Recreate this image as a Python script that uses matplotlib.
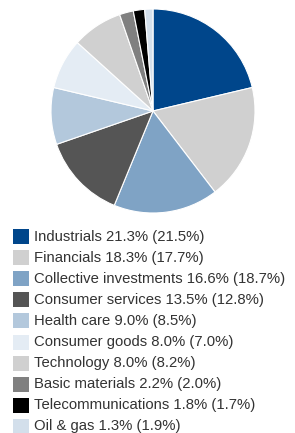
import matplotlib
matplotlib.use("Agg")
import matplotlib.pyplot as plt
from matplotlib.patches import Rectangle

# Sector weights (current %, previous % in brackets)
sectors = ["Industrials", "Financials", "Collective investments", "Consumer services",
           "Health care", "Consumer goods", "Technology", "Basic materials",
           "Telecommunications", "Oil & gas"]
current = [21.3, 18.3, 16.6, 13.5, 9.0, 8.0, 8.0, 2.2, 1.8, 1.3]
previous = [21.5, 17.7, 18.7, 12.8, 8.5, 7.0, 8.2, 2.0, 1.7, 1.9]
colors = ["#00468b", "#d0d0d0", "#7fa3c5", "#555555", "#b3c8dc",
          "#e4ecf4", "#d0d0d0", "#808080", "#000000", "#d3dfeb"]

plt.rcParams["font.family"] = ["Liberation Sans", "DejaVu Sans"]

fig = plt.figure(figsize=(2.95, 4.33), dpi=100)

# Pie
ax = fig.add_axes([51 / 295, 1 - 213 / 433, 204 / 295, 204 / 433])
ax.pie(current, colors=colors, startangle=90, counterclock=False,
       wedgeprops=dict(edgecolor="white", linewidth=0.8))
ax.set_xlim(-1, 1)
ax.set_ylim(-1, 1)
ax.set_aspect("equal")
ax.axis("off")

# Legend built by hand below the pie
W, H = 295, 433
for i, (name, cur, prev) in enumerate(zip(sectors, current, previous)):
    yc = 236.5 + i * 21.1
    fig.add_artist(Rectangle((13 / W, 1 - (yc + 7.5) / H), 15.5 / W, 15 / H,
                             transform=fig.transFigure, facecolor=colors[i],
                             edgecolor="none"))
    fig.text(33.5 / W, 1 - yc / H, f"{name} {cur:.1f}% ({prev:.1f}%)",
             fontsize=10.7, color="#333333", va="center", ha="left")

fig.savefig("out.png", dpi=100)
